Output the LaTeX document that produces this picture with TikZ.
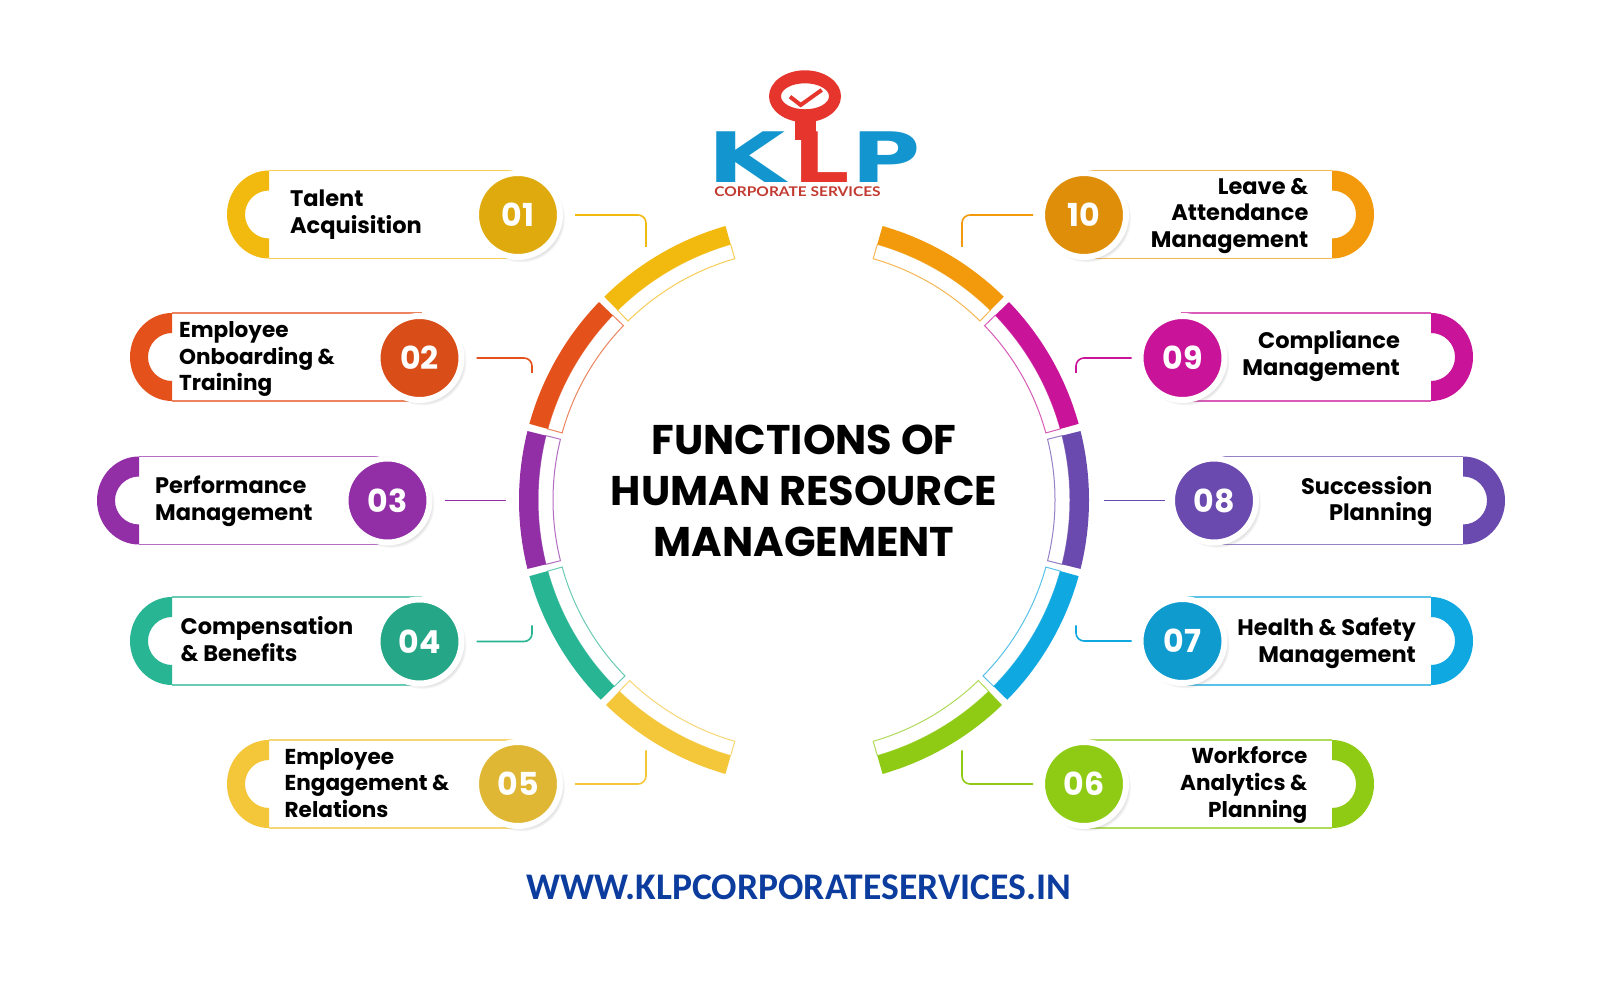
\documentclass[tikz,border=0pt]{standalone}
\usepackage{fontspec}
\setmainfont{Poppins}
\newfontfamily\webfont{Carlito}
\newfontfamily\logofont{DejaVu Sans}
\newfontfamily\subfont{Lato}
\usetikzlibrary{shadows}
\definecolor{colA}{HTML}{F2B90F}
\definecolor{colB}{HTML}{E4511A}
\definecolor{colC}{HTML}{922EA6}
\definecolor{colD}{HTML}{28B593}
\definecolor{colE}{HTML}{F4C63A}
\definecolor{colF}{HTML}{8FCB14}
\definecolor{colG}{HTML}{10A8E0}
\definecolor{colH}{HTML}{6A4AAE}
\definecolor{colI}{HTML}{C9149A}
\definecolor{colJ}{HTML}{F29A0B}
\definecolor{klpblue}{HTML}{1396CF}
\definecolor{klpred}{HTML}{E5352D}
\definecolor{klpdark}{HTML}{C23A30}
\definecolor{webblue}{HTML}{0B3C9E}
\tikzset{%
	badge/.style 2 args = {name = #1, circle, fill = #2, draw = white, line width = 3mm, minimum size = 42mm, inner sep = 0pt, text = white, font = \fontsize{45}{45}\selectfont\bfseries, circular drop shadow = {shadow xshift = 1.4mm, shadow yshift = -1.6mm, shadow scale = 1.05, opacity = 0.4}},
	lefttext/.style = {name = #1, anchor = west, align = left, inner sep = 0pt, font = \fontsize{32}{38}\selectfont\bfseries},
	righttext/.style = {name = #1, anchor = east, align = right, inner sep = 0pt, font = \fontsize{32}{38}\selectfont\bfseries},
	smalltext/.style = {font = \fontsize{30.7}{38}\selectfont\bfseries},
	link/.style = {draw = #1, line width = 0.8mm, rounded corners = 4mm},
	letter/.style = {name = #1, anchor = base, inner sep = 0pt, transform shape, font = \logofont\fontsize{99}{99}\selectfont\bfseries}
}
\newcommand{\capleft}[3]{%
	\draw [#1!70, line width = 0.75mm] (#2,#3+44) -- +(250,0) (#2,#3-44) -- +(250,0);
	\fill [#1] (#2,#3+44) arc (90:270:42 and 44) -- (#2,#3-24) arc (270:90:24) -- cycle;
}
\newcommand{\capright}[3]{%
	\draw [#1!70, line width = 0.75mm] (#2,#3+44) -- +(-250,0) (#2,#3-44) -- +(-250,0);
	\fill [#1] (#2,#3+44) arc (90:-90:42 and 44) -- (#2,#3-24) arc (-90:90:24) -- cycle;
}
\newcommand{\ringseg}[3]{%
	\draw [#1!70, fill = white, line width = 0.5mm, shift = {(804,500)}] (#2:266) arc (#2:#3:266) -- (#3:251) arc (#3:#2:251) -- cycle;
	\fill [#1, shift = {(804,500)}] (#2:285) arc (#2:#3:285) -- (#3:266) arc (#3:#2:266) -- cycle;
}

\begin{document}
\begin{tikzpicture}[x=0.5mm, y=0.5mm]
			\useasboundingbox [fill = white] (0,0) rectangle (1608,1000);

			\ringseg{colA}{106}{134.5}
			\ringseg{colB}{136}{164.5}
			\ringseg{colC}{166}{194}
			\ringseg{colD}{195.5}{224.5}
			\ringseg{colE}{226}{254}
			\ringseg{colJ}{74}{45.5}
			\ringseg{colI}{44}{15.5}
			\ringseg{colH}{14}{-14}
			\ringseg{colG}{-15.5}{-44.5}
			\ringseg{colF}{-46}{-74}

			\capleft{colA}{269}{785.5}
			\capleft{colB}{172}{643}
			\capleft{colC}{139}{499.5}
			\capleft{colD}{172}{359}
			\capleft{colE}{269}{216}
			\capright{colJ}{1332}{785.5}
			\capright{colI}{1431}{643}
			\capright{colH}{1463}{499.5}
			\capright{colG}{1431}{359}
			\capright{colF}{1332}{216}

			\node [badge = {n01}{colA!92!black}] at (518,785) {01};
			\node [badge = {n02}{colB!95!black}] at (419.5,642) {02};
			\node [badge = {n03}{colC}] at (387.5,499.5) {03};
			\node [badge = {n04}{colD!92!black}] at (419.5,358.5) {04};
			\node [badge = {n05}{colE!92!black}] at (518,216) {05};
			\node [badge = {n10}{colJ!92!black}] at (1084,785) {10};
			\node [badge = {n09}{colI}] at (1182.5,642) {09};
			\node [badge = {n08}{colH}] at (1214,499.5) {08};
			\node [badge = {n07}{colG!92!black}] at (1182.5,359) {07};
			\node [badge = {n06}{colF}] at (1084,216) {06};

			\coordinate (c01) at (646,753);
			\coordinate (c02) at (532,627);
			\coordinate (c03) at (505.5,499.5);
			\coordinate (c04) at (532,374.5);
			\coordinate (c05) at (646,249.5);
			\coordinate (c10) at (962,753);
			\coordinate (c09) at (1076,627);
			\coordinate (c08) at (1103.5,499.5);
			\coordinate (c07) at (1076,374.5);
			\coordinate (c06) at (962,249.5);

			\path [link = colA, shorten < = 6mm] (n01) -| (c01);
			\path [link = colB, shorten < = 6mm] (n02) -| (c02);
			\path [link = colC, shorten < = 6mm] (n03) -- (c03);
			\path [link = colD, shorten < = 6mm] (n04) -| (c04);
			\path [link = colE, shorten < = 6mm] (n05) -| (c05);
			\path [link = colJ, shorten < = 3mm] (n10) -| (c10);
			\path [link = colI, shorten < = 3mm] (n09) -| (c09);
			\path [link = colH, shorten < = 2mm] (n08) -- (c08);
			\path [link = colG, shorten < = 3mm] (n07) -| (c07);
			\path [link = colF, shorten < = 3mm] (n06) -| (c06);

			\node [lefttext = {t01}] at (290,785) {Talent\\Acquisition};
			\node [lefttext = {t02}, smalltext] at (179,641) {Employee\\Onboarding \&\\Training};
			\node [lefttext = {t03}] at (155,498.5) {Performance\\Management};
			\node [lefttext = {t04}] at (180.5,361) {Compensation\\\& Benefits};
			\node [lefttext = {t05}, smalltext] at (284.5,217) {Employee\\Engagement \&\\Relations};
			\node [righttext = {t10}] at (1308.5,784) {Leave \&\\Attendance\\Management};
			\node [righttext = {t09}] at (1400,644) {Compliance\\Management};
			\node [righttext = {t08}] at (1432.5,498.5) {Succession\\Planning};
			\node [righttext = {t07}] at (1416,357) {Health \& Safety\\Management};
			\node [righttext = {t06}, smalltext] at (1307.5,215) {Workforce\\Analytics \&\\Planning};

			\node [name = title, align = center, inner sep = 0pt, font = \fontsize{59}{73}\selectfont\bfseries] at (804,509) {FUNCTIONS OF\\HUMAN RESOURCE\\MANAGEMENT};
			\node [name = web, inner sep = 0pt, text = webblue, font = \webfont\fontsize{53.5}{53.5}\selectfont\bfseries] at (799,113) {WWW.KLPCORPORATESERVICES.IN};

			\node [letter = {logoK}, xscale = 1.45, text = klpblue] at (747,817.7) {K};
			\node [letter = {logoP}, xscale = 1.36, text = klpblue] at (886,817.7) {P};
			\node [letter = {logoL}, xscale = 1.27, text = klpred] at (822,817.7) {L};
			\fill [klpred] (795,860) rectangle (816,880);
			\fill [klpred, even odd rule] (805,903.7) ellipse [x radius = 36, y radius = 26] (805,903.7) ellipse [x radius = 24, y radius = 13];
			\draw [klpred, line width = 2mm] (790,903.3) -- (800.7,895) -- (821.7,910);
			\node [name = subline, inner sep = 0pt, xscale = 1.16, transform shape, text = klpdark, font = \subfont\fontsize{19}{19}\selectfont\bfseries] at (797.5,808.7) {CORPORATE SERVICES};
			\end{tikzpicture}
\end{document}
